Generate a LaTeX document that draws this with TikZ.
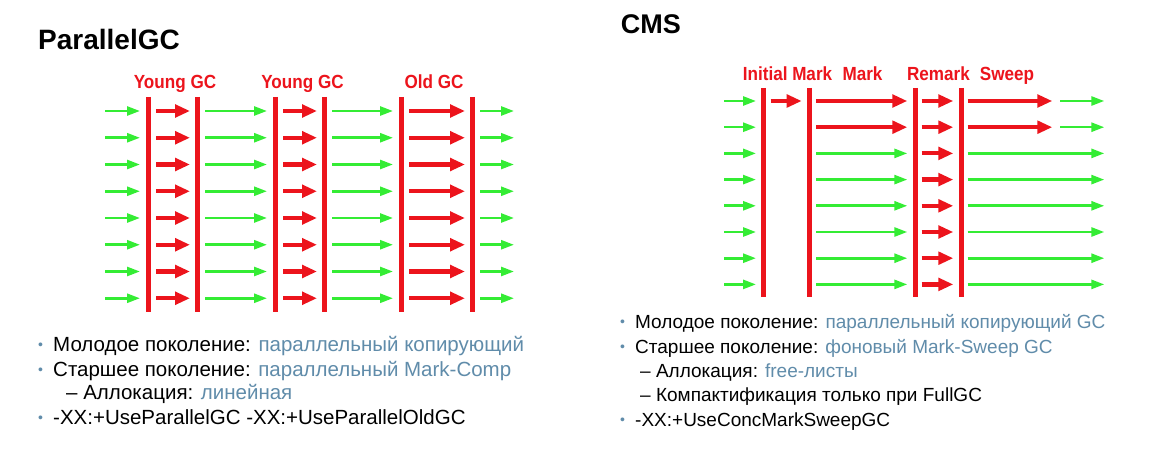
\documentclass[tikz,border=0pt]{standalone}
\usepackage{fontspec}
\setmainfont{Liberation Sans}
\usetikzlibrary{arrows.meta}
\definecolor{gcred}{RGB}{236,20,28}
\definecolor{gcgreen}{RGB}{52,236,52}
\definecolor{txtblue}{RGB}{96,140,170}
\begin{document}
\begin{tikzpicture}[x=1pt,y=-1pt,
  redar/.style={draw=gcred, line width=4.2pt, -{Triangle[length=15pt,width=12.5pt]}},
  grnar/.style={draw=gcgreen, line width=2.6pt, -{Triangle[length=13pt,width=9pt]}},
  gcbar/.style={draw=gcred, line width=5pt},
  lbl/.style={text=gcred, font=\fontsize{19}{19}\selectfont\bfseries, anchor=base, inner sep=0},
  ttl/.style={font=\fontsize{27}{27}\selectfont\bfseries, anchor=base west, inner sep=0},
  body/.style={font=\fontsize{19}{19}\selectfont, anchor=base west, inner sep=0},
  bodyL/.style={font=\fontsize{20.5}{20.5}\selectfont, anchor=base west, inner sep=0},
  bul/.style={text=txtblue, font=\fontsize{14}{14}\selectfont, anchor=base west, inner sep=0},
]
\fill[white] (0,0) rectangle (1155,470);
\useasboundingbox (0,0) rectangle (1155,470);

% ---------------- ParallelGC ----------------
\node[ttl, font=\fontsize{28}{28}\selectfont\bfseries] (t1) at (38,49.3) {ParallelGC};
\node[lbl] (l1) at (175,89) {\scalebox{0.9}[1]{Young GC}};
\node[lbl] (l2) at (302.5,89) {\scalebox{0.9}[1]{Young GC}};
\node[lbl] (l3) at (434,89) {\scalebox{0.9}[1]{Old GC}};

\foreach \i in {0,...,7}{
  \pgfmathsetmacro{\yy}{111+26.75*\i}
  \draw[grnar] (105,\yy) -- (140,\yy);
  \draw[redar] (156,\yy) -- (190,\yy);
  \draw[grnar] (205,\yy) -- (267,\yy);
  \draw[redar] (283,\yy) -- (317,\yy);
  \draw[grnar] (332,\yy) -- (393,\yy);
  \draw[redar] (409,\yy) -- (465,\yy);
  \draw[grnar] (480,\yy) -- (514,\yy);
}
\foreach \xx in {148.3,197.3,275,324.3,401.7,472.7}{
  \draw[gcbar] (\xx,97) -- (\xx,312);
}

% ---------------- CMS ----------------
\node[ttl] (t2) at (620.7,33.3) {CMS};
\node[lbl] (m1) at (787.5,81) {\scalebox{0.9}[1]{Initial Mark}};
\node[lbl] (m2) at (862.5,81) {\scalebox{0.9}[1]{Mark}};
\node[lbl] (m3) at (938.5,81) {\scalebox{0.9}[1]{Remark}};
\node[lbl] (m4) at (1007,81) {\scalebox{0.9}[1]{Sweep}};

\foreach \i in {0,...,7}{
  \pgfmathsetmacro{\yy}{101+26.2*\i}
  \draw[grnar] (724,\yy) -- (756,\yy);
  \draw[redar] (921.7,\yy) -- (953.3,\yy);
}
\draw[redar] (770.7,101) -- (801.7,101);
\foreach \yy in {101,127.2}{
  \draw[redar] (816,\yy) -- (907.3,\yy);
  \draw[redar] (967.7,\yy) -- (1052.3,\yy);
  \draw[grnar] (1060,\yy) -- (1104.3,\yy);
}
\foreach \i in {2,...,7}{
  \pgfmathsetmacro{\yy}{101+26.2*\i}
  \draw[grnar] (816,\yy) -- (907.3,\yy);
  \draw[grnar] (967.7,\yy) -- (1104.3,\yy);
}
\foreach \xx in {763.3,809.3,915,961}{
  \draw[gcbar] (\xx,88) -- (\xx,297);
}

% ---------------- left text ----------------
\begin{scope}
\clip (0,325) rectangle (523,470);
\node[bul] (b1) at (38,349.5) {•};
\node[bodyL] (p1) at (53,351.5) {Молодое поколение: \textcolor{txtblue}{параллельный копирующий}};
\node[bul] (b2) at (38,374.5) {•};
\node[bodyL] (p2) at (53,376.5) {Старшее поколение: \textcolor{txtblue}{параллельный Mark-Comp}};
\node[bodyL] (p3) at (66,399.5) {– Аллокация: \textcolor{txtblue}{линейная}};
\node[bul] (b4) at (38,422.5) {•};
\node[bodyL] (p4) at (53,424.5) {-XX:+UseParallelGC -XX:+UseParallelOldGC};
\end{scope}

% ---------------- right text ----------------
\node[bul] (c1) at (620,326) {•};
\node[body] (q1) at (635,328) {Молодое поколение: \textcolor{txtblue}{параллельный копирующий GC}};
\node[bul] (c2) at (620,351) {•};
\node[body] (q2) at (635,353) {Старшее поколение: \textcolor{txtblue}{фоновый Mark-Sweep GC}};
\node[body] (q3) at (640,377) {– Аллокация: \textcolor{txtblue}{free-листы}};
\node[body] (q4) at (640,401) {– Компактификация только при FullGC};
\node[bul] (c5) at (620,424) {•};
\node[body] (q5) at (635,426) {-XX:+UseConcMarkSweepGC};
\end{tikzpicture}
\end{document}
